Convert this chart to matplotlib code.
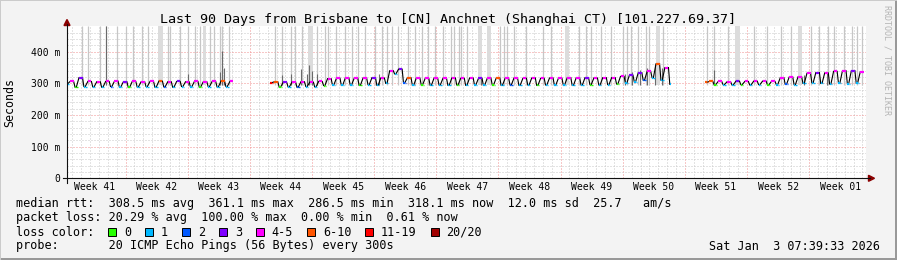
import numpy as np
import matplotlib
matplotlib.use("Agg")
import matplotlib.pyplot as plt
from matplotlib.lines import Line2D
from matplotlib.patches import Polygon, Rectangle
from matplotlib.transforms import blended_transform_factory

W, H = 897, 260
nan = np.nan

# ---- data (x in days from left edge of the 90 day window) ----
title = "Last 90 Days from Brisbane to [CN] Anchnet (Shanghai CT) [101.227.69.37]"
week_labels = ["Week 41", "Week 42", "Week 43", "Week 44", "Week 45", "Week 46",
               "Week 47", "Week 48", "Week 49", "Week 50", "Week 51", "Week 52",
               "Week 01"]
first_week_start = 6.6       # day offset of the first Monday boundary
days_shown = 90

# one daily cycle per entry: lowest median (early) and plateau median (later)
trough_ms = [
    298, 288, 290, 289, 288, 290, 288, 287, 289, 290,
    288, 289, 288, 290, 289, 288, 290, 289, 290, nan,
    nan, nan, nan, 302, 288, 289, 288, 290, 289, 293,
    295, 294, 295, 294, 296, 294, 300, 330, 302, 294,
    295, 294, 295, 294, 295, 294, 295, 294, 295, 294,
    295, 294, 295, 294, 295, 294, 295, 294, 295, 296,
    295, 296, 298, 300, 305, 310, 318, 310, 297, nan,
    nan, nan, 303, 295, 296, 295, 296, 295, 296, 295,
    296, 297, 296, 300, 302, 300, 298, 300, 299, 300,
]
peak_ms = [
    306, 318, 306, 305, 306, 307, 305, 306, 305, 306,
    307, 305, 306, 305, 306, 305, 306, 307, 306, nan,
    nan, nan, nan, 305, 303, 304, 305, 304, 306, 315,
    316, 317, 316, 317, 318, 317, 340, 345, 318, 317,
    316, 317, 316, 317, 316, 317, 316, 317, 317, 316,
    317, 316, 317, 316, 317, 316, 318, 317, 318, 317,
    318, 318, 322, 326, 334, 338, 362, 350, nan, nan,
    nan, nan, 306, 306, 305, 307, 306, 307, 307, 306,
    318, 320, 321, 332, 334, 333, 338, 340, 340, 336,
]
# loss bucket index per cycle (0:'0' 1:'1' 2:'2' 3:'3' 4:'4-5' 5:'6-10' 6:'11-19' 7:'20/20')
trough_loss = [
    1, 0, 1, 1, 1, 2, 1, 0, 1, 1,
    1, 2, 1, 1, 1, 0, 1, 1, 1, 1,
    1, 1, 1, 6, 0, 1, 2, 1, 1, 0,
    1, 1, 1, 0, 1, 1, 1, 1, 2, 1,
    0, 1, 1, 1, 0, 1, 1, 1, 0, 1,
    2, 1, 1, 0, 1, 1, 1, 1, 1, 0,
    1, 1, 0, 1, 1, 2, 1, 1, 1, 1,
    1, 1, 5, 0, 1, 1, 0, 1, 1, 0,
    1, 2, 1, 1, 1, 1, 1, 1, 1, 1,
]
peak_loss = [
    4, 3, 4, 4, 4, 4, 3, 4, 4, 4,
    5, 4, 3, 4, 4, 4, 4, 5, 4, 4,
    4, 4, 4, 5, 3, 4, 4, 4, 4, 4,
    4, 4, 4, 4, 3, 4, 4, 3, 5, 4,
    4, 4, 4, 4, 4, 4, 3, 4, 5, 4,
    4, 4, 4, 4, 4, 4, 4, 4, 3, 4,
    4, 4, 4, 3, 3, 4, 5, 4, 4, 4,
    4, 4, 5, 4, 4, 3, 4, 4, 4, 4,
    4, 4, 4, 4, 3, 4, 4, 4, 3, 4,
]

# smoke: single slow pings reaching the top of the graph
smoke_days = [1.7, 2.4, 3.7, 4.4, 5.6, 6.7, 7.4, 8.4, 9.1, 11.4, 11.6, 12.7, 13.6,
              14.4, 15.0, 16.1, 16.6, 17.2, 17.5, 18.2, 23.4, 24.2, 25.2, 25.7,
              26.5, 28.2, 29.1, 29.4, 30.3, 31.3, 32.1, 32.8, 33.6, 34.7, 35.5,
              36.0, 36.6, 37.3, 38.4, 39.2, 40.0, 40.7, 41.4, 42.4, 43.2, 43.6,
              44.1, 44.4, 45.1, 48.8, 49.2, 49.6, 50.3, 51.7, 53.6, 54.5, 57.7,
              58.5, 59.0, 60.1, 61.3, 62.6, 63.1, 63.5, 64.3, 65.2, 65.6, 67.1,
              72.1, 72.9, 74.4, 77.4, 78.9, 80.4, 81.5, 83.8, 84.7, 85.7, 86.4,
              87.5, 88.4, 89.0, 89.6]
smoke_wide_start = [10.2, 15.3, 27.1, 46.3, 47.3, 56.1, 66.3, 75.3, 82.3]
smoke_wide_end = [10.8, 15.7, 27.7, 46.7, 47.8, 56.6, 66.8, 75.8, 82.8]
smoke_floor_ms = 296
smoke_top_ms = 480
# dense smoke (many slow pings) close to the median
dense_days = [4.4, 13.6, 17.2, 17.5, 17.7, 24.2, 25.2, 26.4, 27.0, 27.3, 27.6,
              28.2, 35.2, 46.6, 62.8, 63.6, 64.5, 65.3, 66.2, 67.0, 72.9, 83.0,
              85.6]
dense_top_ms = [480, 330, 335, 403, 350, 325, 330, 345, 330, 358, 340,
                330, 330, 320, 330, 335, 343, 350, 362, 350, 343, 325,
                335]

loss_labels = ["0", "1", "2", "3", "4-5", "6-10", "11-19", "20/20"]
loss_colors = ["#26ff00", "#00b8ff", "#0059ff", "#7e00ff", "#ff00ff",
               "#ff5500", "#ff0000", "#a10000"]

legend_rtt = ("median rtt:  308.5 ms avg  361.1 ms max  286.5 ms min  "
              "318.1 ms now  12.0 ms sd  25.7   am/s")
legend_loss = "packet loss: 20.29 % avg  100.00 % max  0.00 % min  0.61 % now"
legend_probe = "probe:       20 ICMP Echo Pings (56 Bytes) every 300s"
stamp = "Sat Jan  3 07:39:33 2026"


def fx(x):
    return x / W


def fy(y):
    return 1 - y / H


plt.rcParams["font.family"] = "DejaVu Sans Mono"
fig = plt.figure(figsize=(W / 100, H / 100), dpi=100, facecolor="#f3f3f3")

y0_px, ytop_px, xl_px, xr_px = 178.3, 26.4, 67, 866
ax = fig.add_axes([fx(xl_px), fy(y0_px), (xr_px - xl_px) / W, (y0_px - ytop_px) / H])
ax.set_facecolor("white")
ax.set_xlim(0, days_shown)
ax.set_ylim(0, 480)
for s in ax.spines.values():
    s.set_visible(False)

# grid
dots = (0, (1, 2))
week_edges = [first_week_start + 7 * i for i in range(len(week_labels) - 1)]
for d in np.arange(first_week_start % 1, days_shown, 1.0):
    if min(abs(d - e) for e in week_edges) > 0.1:
        ax.axvline(d, color="#c8c8c8", lw=0.72, ls=dots, zorder=0)
for e in week_edges:
    ax.axvline(e, color="#f09090", lw=0.72, ls=dots, zorder=0)
for v in range(20, 480, 20):
    if v % 100:
        ax.axhline(v, color="#c8c8c8", lw=0.72, ls=dots, zorder=0)
for v in range(100, 500, 100):
    ax.axhline(v, color="#f09090", lw=0.72, ls=dots, zorder=0)

# smoke
for a, b in zip(smoke_wide_start, smoke_wide_end):
    ax.fill_between([a, b], smoke_floor_ms, smoke_top_ms, color="#dcdcdc", lw=0, zorder=1)
ax.vlines(smoke_days, smoke_floor_ms, smoke_top_ms, color="#c6c6c6", lw=0.9, zorder=2)
ax.vlines(dense_days, smoke_floor_ms, dense_top_ms, color="#6a6a6a", lw=0.8, zorder=3)

# median line, coloured by loss
phase = -0.1
for k in range(len(trough_ms)):
    lo, hi = trough_ms[k], peak_ms[k]
    if np.isnan(lo):
        continue
    t0 = k + phase
    tcol = loss_colors[trough_loss[k]]
    ax.plot([t0, t0 + 0.15], [lo, lo], color=tcol, lw=1.6, zorder=5,
            solid_capstyle="butt")
    if np.isnan(hi):
        continue
    pcol = loss_colors[peak_loss[k]]
    # gradual rise through the day
    ax.plot([t0 + 0.15, t0 + 0.45], [lo, hi], color="black", lw=0.8, zorder=4)
    ax.plot([t0 + 0.15, t0 + 0.3], [lo, lo], color=tcol, lw=1.0, zorder=4,
            solid_capstyle="butt")
    ax.plot([t0 + 0.45, t0 + 0.85], [hi, hi], color=pcol, lw=1.6, zorder=5,
            solid_capstyle="butt")
    # abrupt drop to the next day's trough
    if k + 1 < len(trough_ms) and not np.isnan(trough_ms[k + 1]):
        ax.plot([t0 + 0.85, k + 1 + phase], [hi, trough_ms[k + 1]], color="black",
                lw=0.8, zorder=4)

# ticks and labels
ax.set_xticks([])
ax.set_yticks([0, 100, 200, 300, 400], ["0", "100 m", "200 m", "300 m", "400 m"])
ax.tick_params(axis="y", length=0, pad=5, labelsize=7.05)
bt = blended_transform_factory(ax.transData, fig.transFigure)
week_centers = [first_week_start - 3.5 + 7 * i for i in range(len(week_labels))]
for c, lab in zip(week_centers, week_labels):
    ax.text(c, fy(187.3), lab, transform=bt, ha="center", va="center", fontsize=7.05)

# axes with arrows
fig.add_artist(Line2D([fx(63), fx(870)], [fy(y0_px), fy(y0_px)], color="#101010", lw=0.8))
fig.add_artist(Line2D([fx(xl_px), fx(xl_px)], [fy(183), fy(24)], color="#101010", lw=0.8))
fig.add_artist(Polygon([(fx(868.5), fy(175.3)), (fx(868.5), fy(181.3)), (fx(874.5), fy(y0_px))],
                       closed=True, color="#8b0000", transform=fig.transFigure))
fig.add_artist(Polygon([(fx(64), fy(25.5)), (fx(70), fy(25.5)), (fx(67), fy(19.5))],
                       closed=True, color="#8b0000", transform=fig.transFigure))

# texts
fig.text(fx(448), fy(19), title, ha="center", va="center", fontsize=9.6)
fig.text(fx(10), fy(103), "Seconds", rotation=90, ha="center", va="center", fontsize=8.4)
fig.text(fx(887), fy(5), "RRDTOOL / TOBI OETIKER", rotation=270, ha="center", va="top",
         fontsize=6, color="#b4b4b4")

fs = 8.5
pitch = 7.12
fig.text(fx(16), fy(204), legend_rtt, ha="left", va="center", fontsize=fs)
fig.text(fx(16), fy(218), legend_loss, ha="left", va="center", fontsize=fs)
fig.text(fx(16), fy(232), "loss color:", ha="left", va="center", fontsize=fs)
fig.text(fx(16), fy(246), legend_probe, ha="left", va="center", fontsize=fs)
fig.text(fx(880), fy(246), stamp, ha="right", va="center", fontsize=fs)
sx = 108
for lab, col in zip(loss_labels, loss_colors):
    fig.add_artist(Rectangle((fx(sx), fy(236)), 8 / W, 8 / H, transform=fig.transFigure,
                             facecolor=col, edgecolor="black", lw=0.7))
    fig.text(fx(sx + 16), fy(232), lab, ha="left", va="center", fontsize=fs)
    sx = sx + 16 + len(lab) * pitch + 13.8

# frame shading
fig.add_artist(Rectangle((0, 0), 1, 2 / H, transform=fig.transFigure, color="#999999", lw=0))
fig.add_artist(Rectangle((1 - 2 / W, 0), 2 / W, 1, transform=fig.transFigure, color="#999999", lw=0))
fig.add_artist(Rectangle((0, 1 - 1 / H), 1, 1 / H, transform=fig.transFigure, color="#cbcbcb", lw=0))
fig.add_artist(Rectangle((0, 0), 1 / W, 1, transform=fig.transFigure, color="#cbcbcb", lw=0))

fig.savefig("out.png", dpi=100, facecolor=fig.get_facecolor())
